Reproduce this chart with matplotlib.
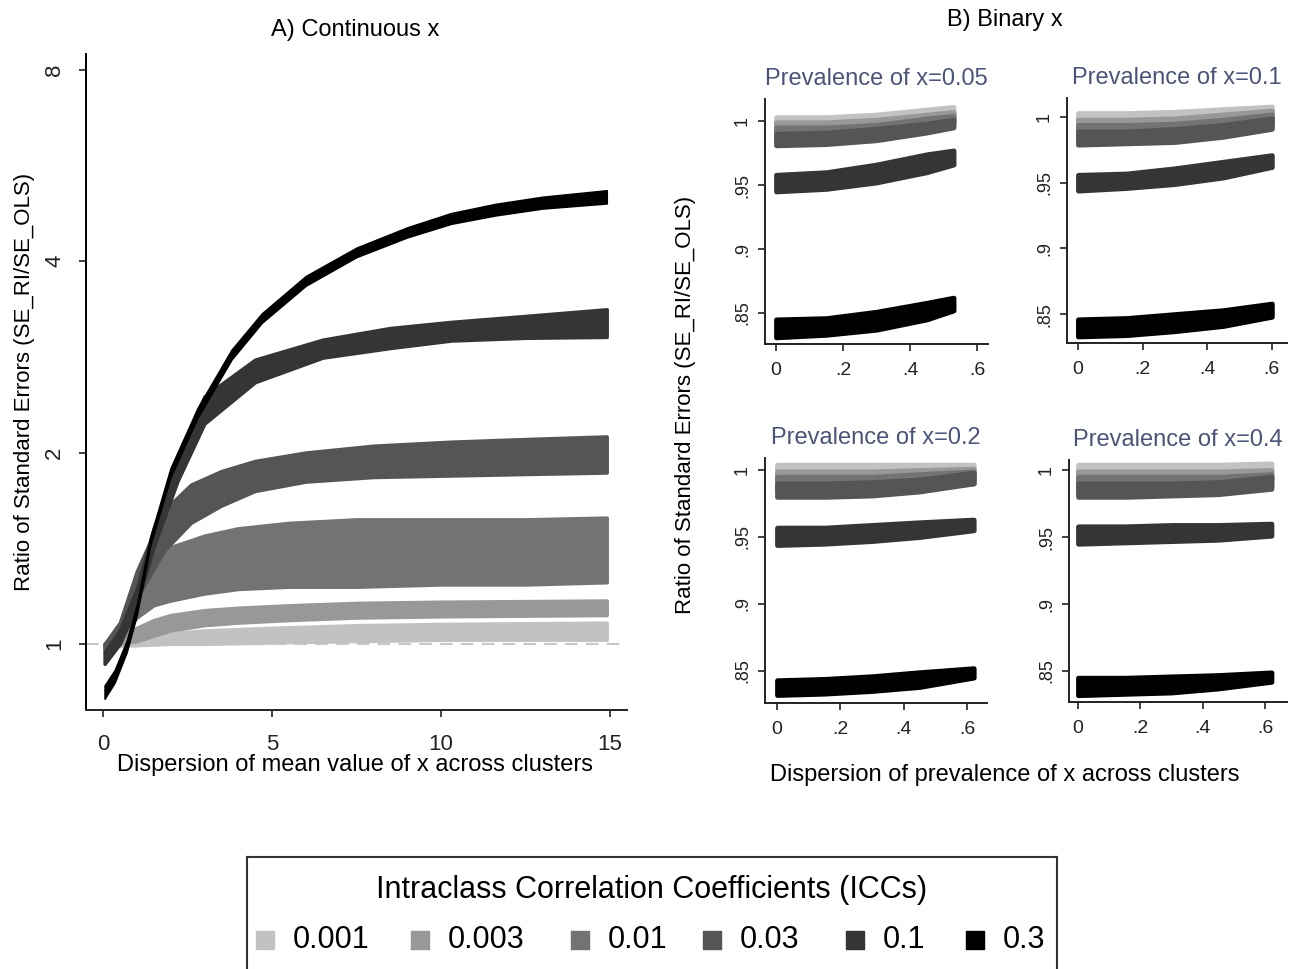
import matplotlib
matplotlib.use("Agg")
import matplotlib.pyplot as plt
from matplotlib.ticker import FixedLocator, NullLocator

plt.rcParams["font.family"] = ["Liberation Sans Narrow", "Liberation Sans", "DejaVu Sans"]

# ICC levels and their grey shades
icc_labels = ["0.001", "0.003", "0.01", "0.03", "0.1", "0.3"]
icc_colors = ["#c2c2c2", "#989898", "#737373", "#555555", "#353535", "#000000"]

# ---- A) continuous x: band edges ----
x_icc001 = [0.05, 1.0, 2.0, 3.0, 5.0, 7.5, 10.0, 14.9]
lo_icc001 = [0.99, 0.995, 1.0, 1.0, 1.005, 1.01, 1.015, 1.015]
hi_icc001 = [1.0, 1.025, 1.04, 1.05, 1.06, 1.07, 1.075, 1.08]

x_icc003 = [0.05, 0.5, 1.0, 1.5, 2.0, 3.0, 4.0, 5.5, 7.5, 10.0, 14.9]
lo_icc003 = [0.99, 1.0, 1.01, 1.03, 1.05, 1.07, 1.08, 1.09, 1.10, 1.105, 1.11]
hi_icc003 = [1.0, 1.03, 1.06, 1.09, 1.11, 1.13, 1.14, 1.15, 1.16, 1.165, 1.17]

x_icc01 = [0.05, 0.5, 1.0, 1.5, 2.0, 3.0, 4.0, 5.5, 7.5, 10.0, 12.5, 14.9]
lo_icc01 = [0.98, 1.02, 1.10, 1.15, 1.17, 1.20, 1.22, 1.23, 1.23, 1.24, 1.24, 1.25]
hi_icc01 = [1.0, 1.06, 1.22, 1.35, 1.42, 1.48, 1.52, 1.55, 1.57, 1.57, 1.57, 1.58]

x_icc03 = [0.05, 0.5, 1.0, 1.8, 2.6, 3.5, 4.5, 6.0, 8.0, 10.3, 12.5, 14.9]
lo_icc03 = [0.97, 1.02, 1.18, 1.40, 1.55, 1.65, 1.74, 1.80, 1.83, 1.84, 1.85, 1.86]
hi_icc03 = [1.0, 1.08, 1.30, 1.62, 1.78, 1.87, 1.94, 2.00, 2.05, 2.08, 2.10, 2.12]

x_icc1 = [0.05, 0.5, 1.0, 1.5, 2.2, 3.0, 4.5, 6.5, 8.5, 10.3, 12.5, 14.9]
lo_icc1 = [0.93, 1.0, 1.15, 1.42, 1.80, 2.22, 2.58, 2.82, 2.92, 3.0, 3.03, 3.04]
hi_icc1 = [0.97, 1.05, 1.22, 1.52, 1.95, 2.45, 2.80, 3.01, 3.14, 3.21, 3.28, 3.36]

x_icc3 = [0.05, 0.35, 0.7, 1.0, 1.4, 2.0, 2.8, 3.8, 4.7, 6.0, 7.5, 9.0, 10.3, 11.6, 13.0, 14.9]
lo_icc3 = [0.82, 0.87, 0.97, 1.11, 1.43, 1.83, 2.27, 2.80, 3.20, 3.66, 4.06, 4.36, 4.58, 4.72, 4.84, 4.93]
hi_icc3 = [0.86, 0.91, 1.01, 1.15, 1.47, 1.89, 2.35, 2.90, 3.31, 3.79, 4.20, 4.52, 4.76, 4.92, 5.05, 5.17]

cont_x = [x_icc001, x_icc003, x_icc01, x_icc03, x_icc1, x_icc3]
cont_lo = [lo_icc001, lo_icc003, lo_icc01, lo_icc03, lo_icc1, lo_icc3]
cont_hi = [hi_icc001, hi_icc003, hi_icc01, hi_icc03, hi_icc1, hi_icc3]

# ---- B) binary x: one x grid per prevalence, rows = ICC levels ----
prevalences = ["0.05", "0.1", "0.2", "0.4"]

bx_p05 = [0, 0.15, 0.3, 0.45, 0.53]
blo_p05 = [[0.996, 0.996, 0.998, 1.001, 1.003],
           [0.992, 0.992, 0.994, 0.998, 1.000],
           [0.987, 0.987, 0.990, 0.995, 0.998],
           [0.981, 0.982, 0.985, 0.991, 0.995],
           [0.945, 0.947, 0.952, 0.960, 0.966],
           [0.831, 0.833, 0.837, 0.845, 0.852]]
bhi_p05 = [[1.003, 1.003, 1.005, 1.009, 1.011],
           [0.999, 0.999, 1.001, 1.005, 1.007],
           [0.995, 0.995, 0.997, 1.002, 1.004],
           [0.990, 0.991, 0.994, 0.998, 1.001],
           [0.958, 0.960, 0.966, 0.974, 0.977],
           [0.845, 0.846, 0.851, 0.858, 0.862]]

bx_p1 = [0, 0.15, 0.3, 0.45, 0.6]
blo_p1 = [[0.995, 0.995, 0.996, 0.998, 1.000],
          [0.991, 0.991, 0.992, 0.994, 0.997],
          [0.985, 0.985, 0.987, 0.990, 0.994],
          [0.979, 0.980, 0.981, 0.985, 0.991],
          [0.944, 0.946, 0.949, 0.954, 0.962],
          [0.833, 0.834, 0.837, 0.841, 0.848]]
bhi_p1 = [[1.003, 1.003, 1.004, 1.006, 1.008],
          [0.998, 0.998, 0.999, 1.002, 1.005],
          [0.994, 0.994, 0.995, 0.998, 1.002],
          [0.989, 0.989, 0.991, 0.994, 0.999],
          [0.956, 0.957, 0.961, 0.966, 0.971],
          [0.846, 0.847, 0.850, 0.853, 0.858]]

bx_p2 = [0, 0.15, 0.3, 0.45, 0.62]
blo_p2 = [[0.995, 0.995, 0.995, 0.996, 0.996],
          [0.991, 0.991, 0.991, 0.992, 0.993],
          [0.985, 0.985, 0.986, 0.987, 0.990],
          [0.980, 0.980, 0.981, 0.984, 0.990],
          [0.944, 0.945, 0.947, 0.950, 0.955],
          [0.832, 0.833, 0.835, 0.838, 0.845]]
bhi_p2 = [[1.004, 1.004, 1.004, 1.004, 1.004],
          [0.999, 0.999, 0.999, 1.000, 1.001],
          [0.995, 0.995, 0.995, 0.997, 0.999],
          [0.990, 0.990, 0.991, 0.993, 0.998],
          [0.957, 0.957, 0.959, 0.961, 0.963],
          [0.843, 0.844, 0.846, 0.849, 0.852]]

bx_p4 = [0, 0.15, 0.3, 0.45, 0.62]
blo_p4 = [[0.996, 0.996, 0.996, 0.996, 0.997],
          [0.991, 0.991, 0.991, 0.992, 0.993],
          [0.985, 0.985, 0.986, 0.986, 0.988],
          [0.980, 0.980, 0.981, 0.982, 0.986],
          [0.945, 0.946, 0.947, 0.948, 0.951],
          [0.832, 0.833, 0.834, 0.837, 0.842]]
bhi_p4 = [[1.004, 1.004, 1.004, 1.004, 1.005],
          [0.999, 0.999, 0.999, 0.999, 1.000],
          [0.995, 0.995, 0.995, 0.995, 0.997],
          [0.990, 0.990, 0.990, 0.991, 0.995],
          [0.958, 0.958, 0.959, 0.959, 0.960],
          [0.845, 0.845, 0.846, 0.847, 0.849]]

bin_x = [bx_p05, bx_p1, bx_p2, bx_p4]
bin_lo = [blo_p05, blo_p1, blo_p2, blo_p4]
bin_hi = [bhi_p05, bhi_p1, bhi_p2, bhi_p4]

cont_xticks = [0, 5, 10, 15]
cont_yticks = [1, 2, 4, 8]
bin_xticks = [0, 0.2, 0.4, 0.6]
bin_xticklabels = ["0", ".2", ".4", ".6"]
bin_yticks = [0.85, 0.9, 0.95, 1.0]
bin_yticklabels = [".85", ".9", ".95", "1"]

W, H = 1290, 969
AXIS_COL = "#222222"
TITLE_BLUE = "#4b5478"


def px_rect(x0, y0, x1, y1):
    # pixel box (top-left origin) -> figure fraction rect
    return [x0 / W, 1 - y1 / H, (x1 - x0) / W, (y1 - y0) / H]


def style_axes(ax):
    for side in ("top", "right"):
        ax.spines[side].set_visible(False)
    for side in ("left", "bottom"):
        ax.spines[side].set_color(AXIS_COL)
        ax.spines[side].set_linewidth(1.4)
    ax.tick_params(direction="out", length=5, width=1.2, color=AXIS_COL,
                   labelcolor="#222222")


fig = plt.figure(figsize=(W / 100, H / 100), dpi=100)

# ---- panel A ----
ax = fig.add_axes(px_rect(86, 54, 627, 710))
ax.axhline(1, color="#c8c8c8", lw=1.5, ls=(0, (6, 4)), zorder=0)
for k, (xs, lo, hi, c) in enumerate(zip(cont_x, cont_lo, cont_hi, icc_colors)):
    edge_w = 1.2 if k == len(icc_colors) - 1 else 2.5
    ax.fill_between(xs, lo, hi, color=c, edgecolor=c, lw=edge_w, joinstyle="round")
ax.set_yscale("log", base=2)
ax.set_ylim(0.787, 8.47)
ax.set_xlim(-0.5, 15.5)
ax.yaxis.set_major_locator(FixedLocator(cont_yticks))
ax.yaxis.set_minor_locator(NullLocator())
ax.set_yticklabels([str(v) for v in cont_yticks], rotation=90, va="center")
ax.set_xticks(cont_xticks)
style_axes(ax)
ax.tick_params(axis="x", labelsize=16, pad=12)
ax.tick_params(axis="y", labelsize=16, pad=10)
ax.spines["left"].set_color("#000000")

fig.text(355 / W, 1 - 30 / H, "A) Continuous x", ha="center", va="center", fontsize=17)
fig.text(355 / W, 1 - 765 / H, "Dispersion of mean value of x across clusters",
         ha="center", va="center", fontsize=17)
fig.text(25 / W, 1 - 382 / H, "Ratio of Standard Errors (SE_RI/SE_OLS)",
         ha="center", va="center", rotation=90, fontsize=16,
         family=["Liberation Sans", "DejaVu Sans"])

# ---- panel B ----
panel_boxes = [(765, 99, 988, 344), (1067, 98, 1287, 343),
               (765, 458, 987, 703), (1069, 460, 1287, 702)]
panel_xlim = [(-0.033, 0.633), (-0.034, 0.647), (-0.038, 0.662), (-0.029, 0.670)]
panel_ylim = [(0.8258, 1.0172), (0.828, 1.0145), (0.826, 1.009), (0.8269, 1.0075)]

for i, prev in enumerate(prevalences):
    bax = fig.add_axes(px_rect(*panel_boxes[i]))
    xs = bin_x[i]
    for lo, hi, c in zip(bin_lo[i], bin_hi[i], icc_colors):
        bax.fill_between(xs, lo, hi, color=c, edgecolor=c, lw=3.5, joinstyle="round")
    bax.set_xlim(*panel_xlim[i])
    bax.set_ylim(*panel_ylim[i])
    bax.set_xticks(bin_xticks)
    bax.set_xticklabels(bin_xticklabels)
    bax.set_yticks(bin_yticks)
    bax.set_yticklabels(bin_yticklabels, rotation=90, va="center")
    style_axes(bax)
    bax.tick_params(axis="x", labelsize=14, pad=8)
    bax.tick_params(axis="y", labelsize=13, pad=5)
    bax.set_title(f"Prevalence of x={prev}", color=TITLE_BLUE, fontsize=17, pad=10)

fig.text(1005 / W, 1 - 20 / H, "B) Binary x", ha="center", va="center", fontsize=17)
fig.text(1005 / W, 1 - 775 / H, "Dispersion of prevalence of x across clusters",
         ha="center", va="center", fontsize=17)
fig.text(685 / W, 1 - 405 / H, "Ratio of Standard Errors (SE_RI/SE_OLS)",
         ha="center", va="center", rotation=90, fontsize=16,
         family=["Liberation Sans", "DejaVu Sans"])

# ---- legend box (runs off the bottom edge) ----
lax = fig.add_axes(px_rect(247, 857, 1057, 969))
lax.set_xlim(247, 1057)
lax.set_ylim(969, 857)
lax.set_xticks([])
lax.set_yticks([])
for side in ("top", "left", "right"):
    lax.spines[side].set_color("#333333")
    lax.spines[side].set_linewidth(1.5)
lax.spines["bottom"].set_visible(False)
lax.text(652, 890, "Intraclass Correlation Coefficients (ICCs)",
         ha="center", va="center", fontsize=22)
square_x = [265, 420, 580, 712, 855, 975]
for sx, lab, c in zip(square_x, icc_labels, icc_colors):
    lax.scatter([sx], [940], marker="s", s=170, color=c, edgecolors=c)
    lax.text(sx + 28, 940, lab, ha="left", va="center", fontsize=22)

fig.savefig("out.png", dpi=100)
